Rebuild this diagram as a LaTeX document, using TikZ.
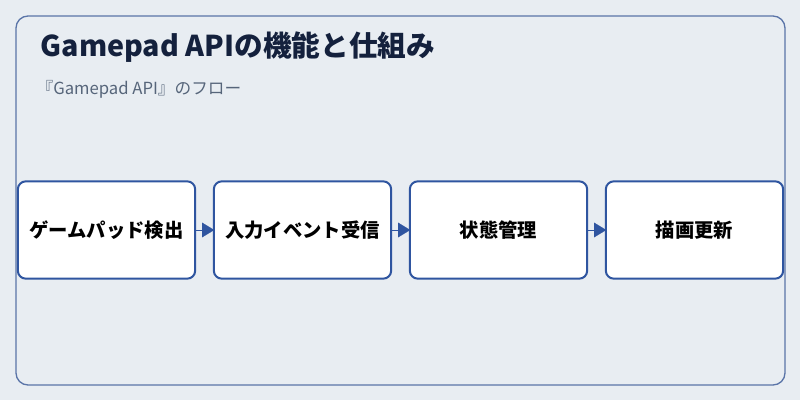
\documentclass[tikz,border=0pt]{standalone}
\usepackage{fontspec}
\setmainfont{Noto Sans CJK JP}
\usepackage{tikz}
\usetikzlibrary{arrows.meta, positioning}
\definecolor{bgcol}{HTML}{E8EDF2}
\definecolor{framecol}{HTML}{5A74A8}
\definecolor{boxcol}{HTML}{2F55A0}
\definecolor{titlecol}{HTML}{14213D}
\definecolor{subcol}{HTML}{56657A}

\begin{document}
\begin{tikzpicture}[x=0.75pt, y=-0.75pt,
    % Node styles
    stepbox/.style={rectangle, rounded corners=6pt, draw=boxcol, line width=1.5pt, fill=white, minimum width=133pt, minimum height=73pt, font=\fontsize{14.5}{16}\selectfont\bfseries, text=black, inner sep=0pt},
    arrow/.style={-{Triangle[length=9pt, width=11pt]}, boxcol, line width=0.1pt, shorten >=-1pt}
]
\useasboundingbox (0,0) rectangle (800,400);
\fill[bgcol] (0,0) rectangle (800,400);
\draw[framecol, line width=1pt, rounded corners=9pt] (16,16) rectangle (785,385);

% Title
\node[anchor=west, text=titlecol, font=\fontsize{21.5}{24}\selectfont\bfseries] (title) at (36,47) {Gamepad APIの機能と仕組み};
\node[anchor=west, text=subcol, font=\fontsize{12.5}{14}\selectfont] (subtitle) at (32,89) {『Gamepad API』のフロー};

% Steps
\node[stepbox] (detect) at (106.5,230) {ゲームパッド検出};
\node[stepbox] (input) at (302.5,230) {入力イベント受信};
\node[stepbox] (state) at (498.5,230) {状態管理};
\node[stepbox] (render) at (694.5,230) {描画更新};

% Arrows
\draw[arrow] (detect.east) -- (input.west);
\draw[arrow] (input.east) -- (state.west);
\draw[arrow] (state.east) -- (render.west);

\end{tikzpicture}
\end{document}
